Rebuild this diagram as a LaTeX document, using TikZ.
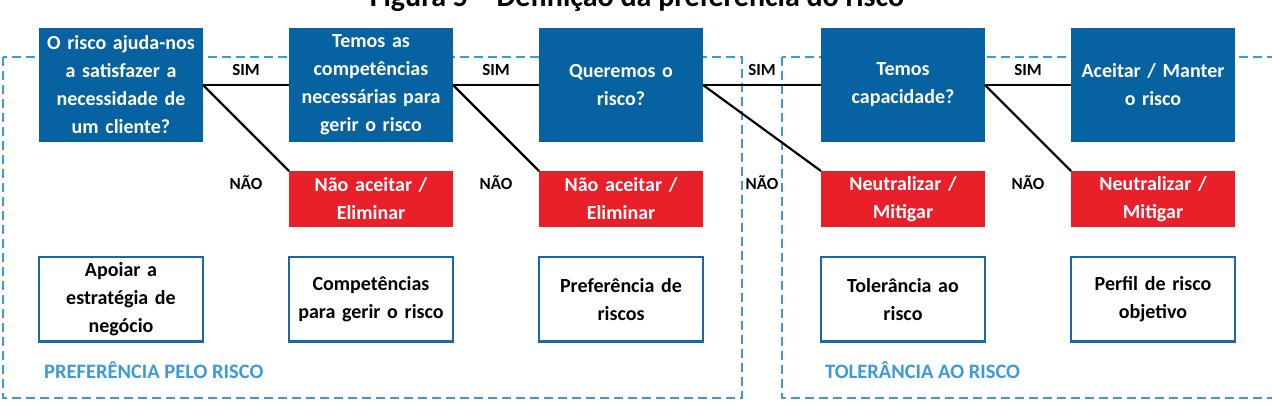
\documentclass[tikz,border=0pt]{standalone}
\usepackage{fontspec}
\setmainfont{Carlito}
\usepackage{tikz}
\usetikzlibrary{positioning, calc}
\definecolor{boxblue}{RGB}{6,98,160}
\definecolor{boxred}{RGB}{233,32,41}
\definecolor{zoneblue}{RGB}{59,155,217}
\definecolor{edgeblue}{RGB}{28,104,166}
\tikzstyle{zone} = [draw=zoneblue, line width=2.8pt, dash pattern=on 9pt off 5pt]
\tikzstyle{link} = [line width=2.2pt, black]

\begin{document}
\begin{tikzpicture}[x=1pt, y=-1pt,
		question/.style={
			rectangle,
			fill=boxblue,
			text=white,
			align=center,
			inner sep=0pt, outer sep=0pt,
			text width=160pt,
			minimum width=164pt,
			minimum height=114pt,
			font=\fontsize{20}{28}\selectfont\bfseries},
		action/.style={question, fill=boxred, minimum height=56pt},
		outcome/.style={question, fill=white, text=black, draw=edgeblue, line width=2.5pt, minimum width=164pt, minimum height=84.5pt},
		lbl/.style={inner sep=0pt, font=\fontsize{17}{20}\selectfont\bfseries},
		zonelbl/.style={inner sep=0pt, text=zoneblue, font=\fontsize{20.5}{24}\selectfont\bfseries}]
		\useasboundingbox (0,0) rectangle (1272,405);

		\node (title) [anchor=base, font=\fontsize{30}{34}\selectfont\bfseries] at (637,6) {Figura 5 – Definição da preferência do risco};

		% zones
		\draw [zone] (3,57) rectangle (742,398);
		\draw [zone] (782,57) rectangle (1290,398);
		\node (preflbl) [zonelbl, anchor=base west] at (44,378) {PREFERÊNCIA PELO RISCO};
		\node (tollbl) [zonelbl, anchor=base west] at (825,378) {TOLERÂNCIA AO RISCO};

		% questions
		\node (q1) [question] at (121,85) {O risco ajuda-nos\\a satisfazer a\\necessidade de\\um cliente?};
		\node (q2) [question, right=86pt of q1] {Temos as\\competências\\necessárias para\\gerir o risco};
		\node (q3) [question, right=86pt of q2] {Queremos o\\risco?};
		\node (q4) [question, right=118pt of q3] {Temos\\capacidade?};
		\node (q5) [question, right=86pt of q4] {Aceitar / Manter\\o risco};

		% answers
		\node (r2) [action, below=29pt of q2] {Não aceitar /\\Eliminar};
		\node (r3) [action, below=29pt of q3] {Não aceitar /\\Eliminar};
		\node (r4) [action, below=29pt of q4] {Neutralizar /\\Mitigar};
		\node (r5) [action, below=29pt of q5] {Neutralizar /\\Mitigar};

		\node (w1) [outcome, below=115pt of q1] {Apoiar a\\estratégia de\\negócio};
		\node (w2) [outcome, below=30pt of r2] {Competências\\para gerir o risco};
		\node (w3) [outcome, below=30pt of r3] {Preferência de\\riscos};
		\node (w4) [outcome, below=30pt of r4] {Tolerância ao\\risco};
		\node (w5) [outcome, below=30pt of r5] {Perfil de risco\\objetivo};

		% links
		\draw [link] (q1.east) -- (q2.west) node (s1) [lbl, midway, above=8pt] {SIM};
		\draw [link] (q2.east) -- (q3.west) node (s2) [lbl, midway, above=8pt] {SIM};
		\draw [link] (q3.east) -- (q4.west) node (s3) [lbl, midway, above=8pt] {SIM};
		\draw [link] (q4.east) -- (q5.west) node (s4) [lbl, midway, above=8pt] {SIM};
		\draw [link] (q1.east) -- (r2.north west);
		\draw [link] (q2.east) -- (r3.north west);
		\draw [link] (q3.east) -- (r4.north west);
		\draw [link] (q4.east) -- (r5.north west);
		\node (n1) [lbl, anchor=base] at ($(s1.base)+(0,114)$) {NÃO};
		\node (n2) [lbl, anchor=base] at ($(s2.base)+(0,114)$) {NÃO};
		\node (n3) [lbl, anchor=base] at ($(s3.base)+(0,114)$) {NÃO};
		\node (n4) [lbl, anchor=base] at ($(s4.base)+(0,114)$) {NÃO};
	\end{tikzpicture}
\end{document}
